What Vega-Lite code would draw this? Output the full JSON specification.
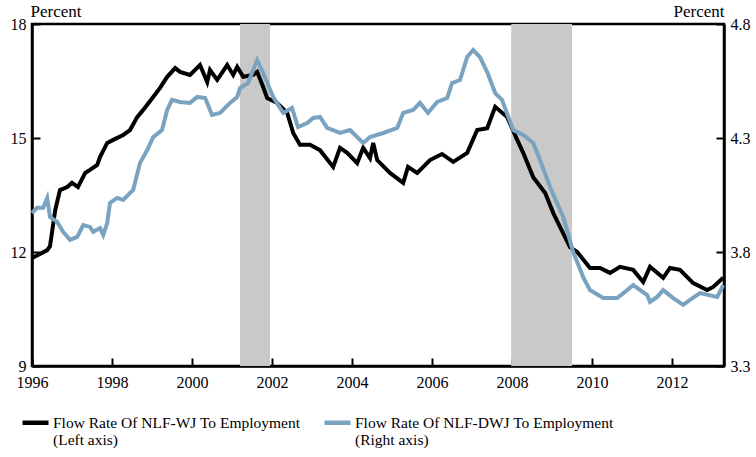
{
  "$schema": "https://vega.github.io/schema/vega-lite/v6.json",
  "width": 692,
  "height": 342,
  "autosize": "none",
  "padding": {"left": 32, "top": 24, "right": 32, "bottom": 91},
  "background": "white",
  "config": {
    "font": "Liberation Serif",
    "view": {"stroke": "black", "strokeWidth": 2.5},
    "text": {"font": "Liberation Serif"},
    "axis": {
      "grid": false,
      "domainColor": "black",
      "domainWidth": 2.5,
      "tickColor": "black",
      "tickWidth": 2,
      "labelColor": "black",
      "labelFont": "Liberation Serif",
      "labelFontSize": 16,
      "titleFont": "Liberation Serif",
      "titleFontSize": 17,
      "titleFontWeight": "normal",
      "titleColor": "black"
    }
  },
  "datasets": {
    "wj": [
      {"year": 1996.0, "v": 11.84}, {"year": 1996.2, "v": 11.95}, {"year": 1996.38, "v": 12.05}, {"year": 1996.45, "v": 12.15},
      {"year": 1996.58, "v": 13.1}, {"year": 1996.7, "v": 13.63}, {"year": 1996.88, "v": 13.71}, {"year": 1997.0, "v": 13.82},
      {"year": 1997.15, "v": 13.71}, {"year": 1997.33, "v": 14.08}, {"year": 1997.45, "v": 14.16}, {"year": 1997.63, "v": 14.29},
      {"year": 1997.7, "v": 14.5}, {"year": 1997.88, "v": 14.87}, {"year": 1998.03, "v": 14.95}, {"year": 1998.28, "v": 15.08},
      {"year": 1998.45, "v": 15.21}, {"year": 1998.63, "v": 15.55}, {"year": 1998.78, "v": 15.74}, {"year": 1999.03, "v": 16.08},
      {"year": 1999.2, "v": 16.32}, {"year": 1999.38, "v": 16.61}, {"year": 1999.58, "v": 16.84}, {"year": 1999.7, "v": 16.74},
      {"year": 1999.95, "v": 16.66}, {"year": 2000.2, "v": 16.92}, {"year": 2000.38, "v": 16.47}, {"year": 2000.45, "v": 16.79},
      {"year": 2000.63, "v": 16.53}, {"year": 2000.88, "v": 16.92}, {"year": 2001.03, "v": 16.66}, {"year": 2001.13, "v": 16.87},
      {"year": 2001.28, "v": 16.61}, {"year": 2001.53, "v": 16.66}, {"year": 2001.63, "v": 16.74}, {"year": 2001.78, "v": 16.34},
      {"year": 2001.88, "v": 16.05}, {"year": 2002.13, "v": 15.92}, {"year": 2002.38, "v": 15.66}, {"year": 2002.53, "v": 15.13},
      {"year": 2002.7, "v": 14.82}, {"year": 2002.95, "v": 14.82}, {"year": 2003.2, "v": 14.68}, {"year": 2003.53, "v": 14.24},
      {"year": 2003.7, "v": 14.74}, {"year": 2003.88, "v": 14.61}, {"year": 2004.13, "v": 14.34}, {"year": 2004.28, "v": 14.74},
      {"year": 2004.45, "v": 14.47}, {"year": 2004.53, "v": 14.87}, {"year": 2004.63, "v": 14.42}, {"year": 2004.95, "v": 14.08},
      {"year": 2005.28, "v": 13.82}, {"year": 2005.4, "v": 14.24}, {"year": 2005.63, "v": 14.08}, {"year": 2005.95, "v": 14.42},
      {"year": 2006.25, "v": 14.58}, {"year": 2006.53, "v": 14.37}, {"year": 2006.88, "v": 14.61}, {"year": 2007.13, "v": 15.21},
      {"year": 2007.38, "v": 15.26}, {"year": 2007.58, "v": 15.82}, {"year": 2007.88, "v": 15.55}, {"year": 2008.13, "v": 14.95},
      {"year": 2008.28, "v": 14.61}, {"year": 2008.53, "v": 13.97}, {"year": 2008.83, "v": 13.55}, {"year": 2009.03, "v": 13.03},
      {"year": 2009.2, "v": 12.66}, {"year": 2009.45, "v": 12.13}, {"year": 2009.63, "v": 12.0}, {"year": 2009.95, "v": 11.58},
      {"year": 2010.2, "v": 11.58}, {"year": 2010.45, "v": 11.45}, {"year": 2010.7, "v": 11.61}, {"year": 2011.03, "v": 11.53},
      {"year": 2011.28, "v": 11.21}, {"year": 2011.45, "v": 11.61}, {"year": 2011.78, "v": 11.32}, {"year": 2011.95, "v": 11.58},
      {"year": 2012.2, "v": 11.53}, {"year": 2012.53, "v": 11.18}, {"year": 2012.88, "v": 11.0}, {"year": 2013.03, "v": 11.08},
      {"year": 2013.28, "v": 11.32}
    ],
    "dwj": [
      {"year": 1996.0, "v": 3.971}, {"year": 1996.13, "v": 3.994}, {"year": 1996.28, "v": 3.994}, {"year": 1996.38, "v": 4.037},
      {"year": 1996.45, "v": 3.954}, {"year": 1996.63, "v": 3.932}, {"year": 1996.78, "v": 3.888}, {"year": 1996.95, "v": 3.853},
      {"year": 1997.13, "v": 3.866}, {"year": 1997.28, "v": 3.918}, {"year": 1997.45, "v": 3.91}, {"year": 1997.53, "v": 3.888},
      {"year": 1997.7, "v": 3.905}, {"year": 1997.78, "v": 3.875}, {"year": 1997.88, "v": 3.927}, {"year": 1997.95, "v": 4.015},
      {"year": 1998.13, "v": 4.037}, {"year": 1998.28, "v": 4.028}, {"year": 1998.45, "v": 4.059}, {"year": 1998.53, "v": 4.072},
      {"year": 1998.7, "v": 4.19}, {"year": 1998.88, "v": 4.247}, {"year": 1999.03, "v": 4.304}, {"year": 1999.25, "v": 4.335},
      {"year": 1999.38, "v": 4.423}, {"year": 1999.5, "v": 4.467}, {"year": 1999.7, "v": 4.458}, {"year": 1999.95, "v": 4.454},
      {"year": 2000.13, "v": 4.48}, {"year": 2000.33, "v": 4.475}, {"year": 2000.5, "v": 4.401}, {"year": 2000.7, "v": 4.41},
      {"year": 2000.95, "v": 4.454}, {"year": 2001.13, "v": 4.48}, {"year": 2001.2, "v": 4.519}, {"year": 2001.4, "v": 4.541},
      {"year": 2001.63, "v": 4.642}, {"year": 2001.78, "v": 4.585}, {"year": 2002.03, "v": 4.48}, {"year": 2002.28, "v": 4.41},
      {"year": 2002.5, "v": 4.432}, {"year": 2002.65, "v": 4.348}, {"year": 2002.88, "v": 4.366}, {"year": 2003.03, "v": 4.388},
      {"year": 2003.2, "v": 4.392}, {"year": 2003.38, "v": 4.344}, {"year": 2003.7, "v": 4.322}, {"year": 2003.95, "v": 4.335},
      {"year": 2004.28, "v": 4.278}, {"year": 2004.45, "v": 4.304}, {"year": 2004.78, "v": 4.322}, {"year": 2005.13, "v": 4.344},
      {"year": 2005.28, "v": 4.41}, {"year": 2005.53, "v": 4.423}, {"year": 2005.7, "v": 4.454}, {"year": 2005.9, "v": 4.41},
      {"year": 2006.13, "v": 4.458}, {"year": 2006.38, "v": 4.475}, {"year": 2006.5, "v": 4.541}, {"year": 2006.7, "v": 4.554},
      {"year": 2006.88, "v": 4.655}, {"year": 2007.03, "v": 4.686}, {"year": 2007.2, "v": 4.655}, {"year": 2007.38, "v": 4.589},
      {"year": 2007.58, "v": 4.497}, {"year": 2007.75, "v": 4.467}, {"year": 2008.03, "v": 4.335}, {"year": 2008.28, "v": 4.313},
      {"year": 2008.53, "v": 4.278}, {"year": 2008.7, "v": 4.204}, {"year": 2008.95, "v": 4.085}, {"year": 2009.28, "v": 3.954},
      {"year": 2009.53, "v": 3.8}, {"year": 2009.78, "v": 3.69}, {"year": 2009.95, "v": 3.633}, {"year": 2010.28, "v": 3.598},
      {"year": 2010.63, "v": 3.598}, {"year": 2010.88, "v": 3.633}, {"year": 2011.03, "v": 3.655}, {"year": 2011.38, "v": 3.611},
      {"year": 2011.45, "v": 3.581}, {"year": 2011.63, "v": 3.603}, {"year": 2011.78, "v": 3.633}, {"year": 2012.03, "v": 3.598},
      {"year": 2012.28, "v": 3.568}, {"year": 2012.45, "v": 3.59}, {"year": 2012.7, "v": 3.62}, {"year": 2013.13, "v": 3.603},
      {"year": 2013.28, "v": 3.655}
    ],
    "rec": [
      {"start": 2001.2, "end": 2001.95},
      {"start": 2007.98, "end": 2009.5}
    ]
  },
  "layer": [
    {
      "data": {"name": "rec"},
      "mark": {"type": "rect", "color": "#c9c9c9"},
      "encoding": {
        "x": {"field": "start", "type": "quantitative", "scale": {"domain": [1996, 2013.3], "nice": false, "zero": false}},
        "x2": {"field": "end"}
      }
    },
    {
      "data": {"name": "wj"},
      "transform": [{"calculate": "'Flow Rate Of NLF-WJ To Employment|(Left axis)'", "as": "series"}],
      "mark": {"type": "line", "strokeWidth": 4},
      "encoding": {
        "x": {
          "field": "year", "type": "quantitative",
          "scale": {"domain": [1996, 2013.3], "nice": false, "zero": false},
          "axis": {"title": null, "values": [1996, 1998, 2000, 2002, 2004, 2006, 2008, 2010, 2012], "format": "d", "tickSize": -8, "labelPadding": 16, "labelFlush": false,
                   "labelFont": "Liberation Serif", "labelFontSize": 16, "labelColor": "black"}
        },
        "y": {
          "field": "v", "type": "quantitative",
          "scale": {"domain": [9, 18], "nice": false, "zero": false},
          "axis": {"orient": "left", "values": [9, 12, 15, 18], "tickSize": -8, "labelPadding": 14,
                   "labelFont": "Liberation Serif", "labelFontSize": 16, "labelColor": "black",
                   "title": "Percent", "titleFont": "Liberation Serif", "titleFontSize": 17, "titleFontWeight": "normal", "titleColor": "black",
                   "titleAngle": 0, "titleAlign": "left", "titleBaseline": "alphabetic", "titleX": -2, "titleY": -8}
        },
        "color": {
          "field": "series", "type": "nominal",
          "scale": {
            "domain": ["Flow Rate Of NLF-WJ To Employment|(Left axis)", "Flow Rate Of NLF-DWJ To Employment|(Right axis)"],
            "range": ["#000000", "#7aa3c1"]
          },
          "legend": {
            "title": null,
            "orient": "none",
            "legendX": -12,
            "legendY": 383,
            "direction": "horizontal",
            "columns": 2,
            "columnPadding": 14,
            "padding": 0,
            "symbolType": "stroke",
            "symbolSize": 676,
            "symbolStrokeWidth": 4.5,
            "labelFont": "Liberation Serif",
            "labelFontSize": 15.5,
            "labelColor": "black",
            "labelLimit": 0,
            "labelOffset": 2,
            "labelExpr": "split(datum.label, '|')"
          }
        }
      }
    },
    {
      "data": {"name": "dwj"},
      "transform": [{"calculate": "'Flow Rate Of NLF-DWJ To Employment|(Right axis)'", "as": "series"}],
      "mark": {"type": "line", "strokeWidth": 4},
      "encoding": {
        "x": {"field": "year", "type": "quantitative"},
        "y": {
          "field": "v", "type": "quantitative",
          "scale": {"domain": [3.3, 4.8], "nice": false, "zero": false},
          "axis": {"orient": "right", "values": [3.3, 3.8, 4.3, 4.8], "format": ".1f", "tickSize": -8, "labelPadding": 14,
                   "labelFont": "Liberation Serif", "labelFontSize": 16, "labelColor": "black",
                   "title": "Percent", "titleFont": "Liberation Serif", "titleFontSize": 17, "titleFontWeight": "normal", "titleColor": "black",
                   "titleAngle": 0, "titleAlign": "right", "titleBaseline": "alphabetic", "titleX": 0, "titleY": -8}
        },
        "color": {"field": "series", "type": "nominal"}
      }
    }
  ],
  "resolve": {"scale": {"y": "independent"}}
}
